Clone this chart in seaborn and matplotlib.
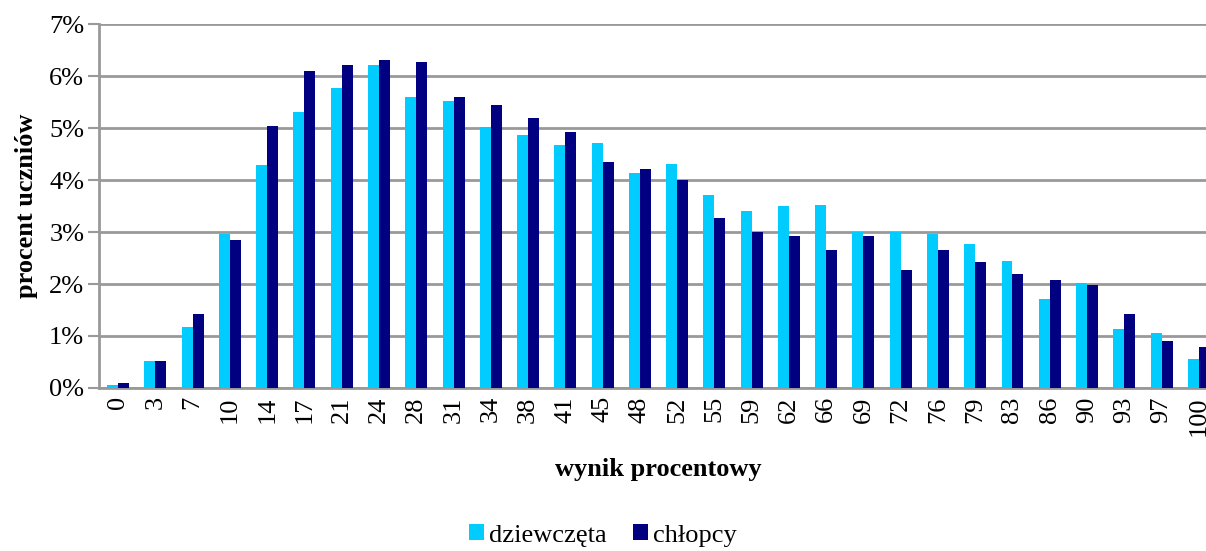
import pandas as pd
import numpy as np
import matplotlib
matplotlib.use("Agg")
import matplotlib.pyplot as plt
import seaborn as sns

# wynik procentowy - kategorie na osi x
wyniki = ['0', '3', '7', '10', '14', '17', '21', '24', '28', '31', '34', '38', '41', '45', '48',
          '52', '55', '59', '62', '66', '69', '72', '76', '79', '83', '86', '90', '93', '97', '100']

# procent uczniow (w %)
dziewczeta = [0.05, 0.52, 1.17, 2.97, 4.30, 5.32, 5.78, 6.22, 5.60, 5.53, 5.02, 4.86, 4.68, 4.72, 4.14,
              4.31, 3.72, 3.41, 3.50, 3.52, 3.01, 3.01, 2.97, 2.77, 2.44, 1.71, 2.01, 1.13, 1.06, 0.55]
chlopcy = [0.10, 0.52, 1.42, 2.84, 5.04, 6.10, 6.22, 6.31, 6.28, 5.60, 5.44, 5.20, 4.92, 4.34, 4.22,
           4.01, 3.28, 3.01, 2.93, 2.66, 2.93, 2.26, 2.66, 2.42, 2.19, 2.07, 1.98, 1.42, 0.90, 0.78]

grupy = ['dziewczęta', 'chłopcy']
kolory = ['#00CCFF', '#000080']

df = pd.DataFrame({
    'wynik': wyniki * 2,
    'procent': dziewczeta + chlopcy,
    'grupa': [grupy[0]] * len(wyniki) + [grupy[1]] * len(wyniki),
})

sns.set_style("white")
plt.rcParams['font.family'] = ['Liberation Serif', 'DejaVu Serif']
plt.rcParams['text.color'] = 'black'
plt.rcParams['axes.labelcolor'] = 'black'
plt.rcParams['xtick.color'] = 'black'
plt.rcParams['ytick.color'] = 'black'

fig = plt.figure(figsize=(12.06, 5.51), dpi=100)
# os wychodzi nieco poza prawa krawedz, jak w oryginale (ostatnia etykieta ucieta)
ax = fig.add_axes([0.0825, 0.296, 0.927, 0.66])

sns.barplot(data=df, x='wynik', y='procent', hue='grupa', order=wyniki, hue_order=grupy,
            palette=kolory, width=0.59, saturation=1, linewidth=0, ax=ax, zorder=3)

ax.set_ylim(0, 7)
ax.set_xlim(-0.5, len(wyniki) - 0.5)
ax.set_yticks(range(0, 8))
ax.set_yticklabels([f'{i}%' for i in range(0, 8)], fontsize=19)
ax.tick_params(axis='x', labelrotation=90, labelsize=19, length=0, pad=6, labelcolor='black')
ax.tick_params(axis='y', length=8, width=1.5, color='#999999', left=True, pad=3, labelcolor='black')

ax.yaxis.grid(True, color='#999999', linewidth=2, zorder=0)
ax.set_axisbelow(True)
for s in ['top', 'right']:
    ax.spines[s].set_visible(False)
ax.spines['left'].set_color('#999999')
ax.spines['left'].set_linewidth(2)
ax.spines['bottom'].set_color('#999999')
ax.spines['bottom'].set_linewidth(2)

ax.set_xlabel('wynik procentowy', fontsize=19, fontweight='bold', labelpad=16)
ax.set_ylabel('procent uczniów', fontsize=19, fontweight='bold', labelpad=8)

ax.legend_.remove()
handles, labels = ax.get_legend_handles_labels()
fig.legend(handles, labels, loc='lower center', bbox_to_anchor=(0.5, -0.035), ncol=2, frameon=False,
           fontsize=19, handlelength=0.55, handleheight=0.55, handletextpad=0.2, columnspacing=1.0)

fig.savefig('out.png', dpi=100)
